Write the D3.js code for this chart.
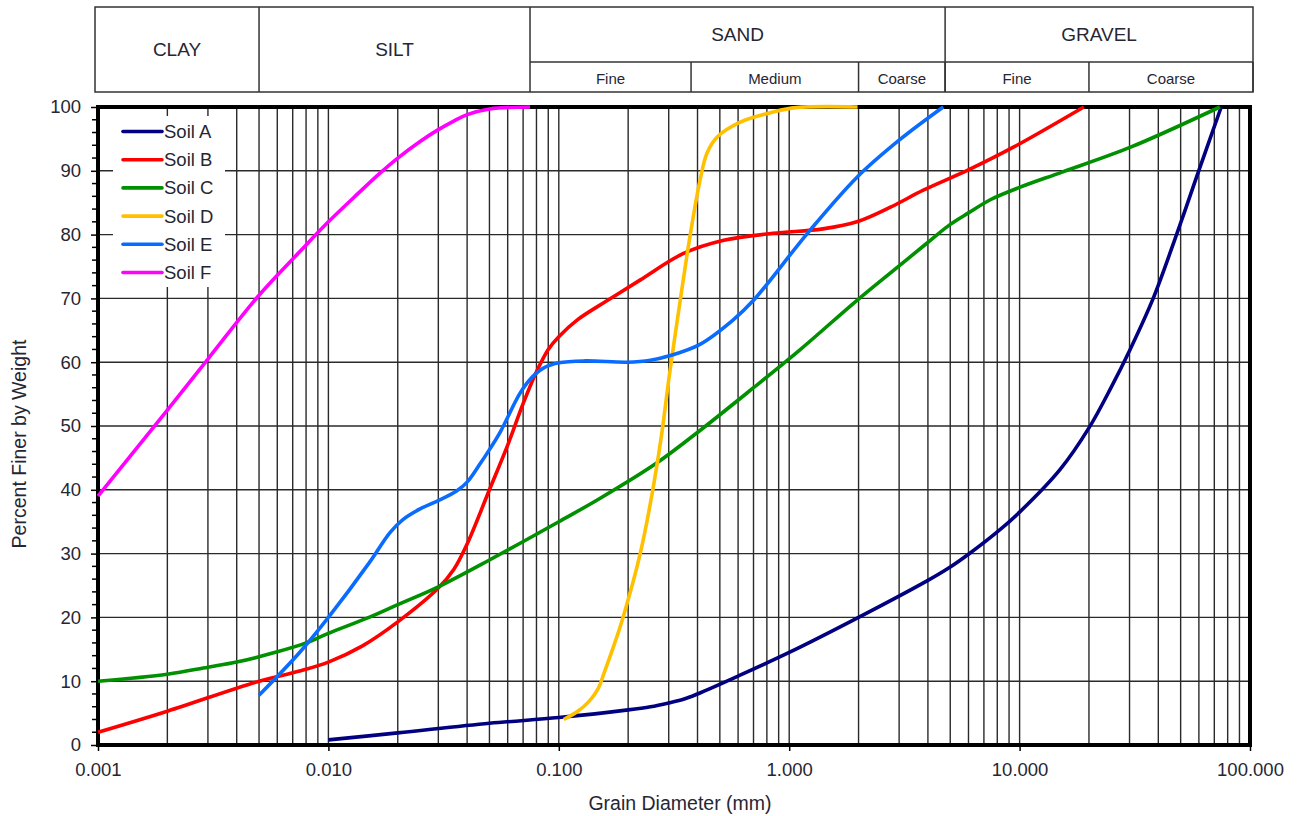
<!DOCTYPE html>
<html>
<head>
<meta charset="utf-8">
<script src="https://cdn.jsdelivr.net/npm/d3@7"></script>
<style>
  html, body { margin: 0; padding: 0; background: #fff; }
  svg { display: block; font-family: "Liberation Sans", Arial, sans-serif; }
</style>
</head>
<body>
<svg id="chart" width="1297" height="816"></svg>
<script>
// Grain size distribution curves (diameter in mm, percent finer by weight)
const soilA_d = [0.01, 0.02, 0.05, 0.1, 0.2, 0.25, 0.3, 0.35, 0.4, 0.6, 1, 2, 4, 5, 6, 8, 10, 15, 20, 25, 30, 38, 48, 58.6, 75];
const soilA_p = [0.8, 1.9, 3.4, 4.3, 5.5, 6.0, 6.6, 7.2, 8.0, 10.8, 14.5, 20, 25.8, 27.9, 29.9, 33.4, 36.5, 43.2, 49.7, 56.1, 61.8, 70, 80, 89, 100];

const soilB_d = [0.001, 0.002, 0.005, 0.0075, 0.01, 0.014, 0.02, 0.03, 0.035, 0.04, 0.05, 0.06, 0.07, 0.08, 0.09, 0.1, 0.12, 0.163, 0.226, 0.346, 0.52, 0.85, 1.4, 2, 2.75, 3.84, 5.96, 9.4, 19];
const soilB_p = [2, 5.3, 10, 11.6, 13, 15.5, 19.3, 24.6, 27.5, 31.5, 40, 47, 53.5, 58.5, 62, 64, 66.6, 69.7, 72.9, 77, 79.1, 80.2, 80.9, 82.1, 84.3, 87, 90.1, 93.7, 100];

const soilC_d = [0.001, 0.002, 0.003, 0.004, 0.006, 0.008, 0.01, 0.015, 0.02, 0.03, 0.05, 0.1, 0.15, 0.266, 0.41, 0.7, 1.11, 1.97, 3.22, 4.1, 5, 6, 7.5, 10, 15.3, 30.3, 74];
const soilC_p = [10, 11.1, 12.2, 13, 14.6, 16.0, 17.5, 20, 22, 24.8, 29, 35, 38.6, 44.2, 49.3, 56, 61.9, 69.7, 76, 79.1, 81.6, 83.4, 85.5, 87.4, 89.8, 93.7, 100];

const soilD_d = [0.105, 0.12, 0.135, 0.148, 0.158, 0.175, 0.19, 0.2256, 0.253, 0.279, 0.302, 0.336, 0.372, 0.41, 0.44, 0.487, 0.61, 0.85, 1.07, 1.98];
const soilD_p = [4, 5.2, 6.8, 8.8, 11.5, 16, 20, 30, 39, 48.5, 58, 69.5, 80, 88.5, 92.8, 95.3, 97.6, 99.2, 99.9, 100];

const soilE_d = [0.005, 0.0075, 0.01, 0.015, 0.0185, 0.021, 0.025, 0.03, 0.036, 0.04, 0.045, 0.05, 0.0556, 0.0675, 0.075, 0.085, 0.1, 0.13, 0.198, 0.25, 0.302, 0.41, 0.57, 0.70, 1.2, 1.97, 3.0, 4.66];
const soilE_p = [7.8, 14.5, 20, 28.5, 33.3, 35.3, 37, 38.3, 39.8, 41.2, 43.8, 46.3, 49, 55, 57.3, 59, 59.9, 60.2, 60, 60.3, 61, 62.8, 66.6, 69.7, 80.2, 89, 94.8, 100];

const soilF_d = [0.001, 0.002, 0.003, 0.005, 0.0075, 0.01, 0.0135, 0.0167, 0.02, 0.025, 0.0295, 0.035, 0.04, 0.05, 0.075];
const soilF_p = [39, 52.5, 60.5, 70.5, 77.3, 82, 86.5, 89.6, 92, 94.6, 96.3, 97.8, 98.8, 99.7, 100];

const seriesNames = ["Soil A", "Soil B", "Soil C", "Soil D", "Soil E", "Soil F"];
const seriesColors = ["#000080", "#ff0000", "#009000", "#ffc000", "#0a6cff", "#ff00ff"];
const seriesD = [soilA_d, soilB_d, soilC_d, soilD_d, soilE_d, soilF_d];
const seriesP = [soilA_p, soilB_p, soilC_p, soilD_p, soilE_p, soilF_p];

// Axis ticks
const xTickValues = [0.001, 0.01, 0.1, 1, 10, 100];
const xTickLabels = ["0.001", "0.010", "0.100", "1.000", "10.000", "100.000"];
const yTickValues = [0, 10, 20, 30, 40, 50, 60, 70, 80, 90, 100];

// Soil classification bands (diameter bounds in mm)
const classNames = ["CLAY", "SILT", "SAND", "GRAVEL"];
const classBounds = [0.001, 0.005, 0.075, 4.75, 100];
const subNames = ["Fine", "Medium", "Coarse", "Fine", "Coarse"];
const subBounds = [[0.075, 0.375], [0.375, 2], [2, 4.75], [4.75, 20], [20, 100]];

const svg = d3.select("#chart");
const plotLeft = 98, plotRight = 1250, plotTop = 107, plotBottom = 745;

const x = d3.scaleLog().domain([0.001, 100]).range([plotLeft, plotRight]);
const y = d3.scaleLinear().domain([0, 100]).range([plotBottom, plotTop]);

const gridColor = "#2a2a2a";
const textColor = "#262633";

// ----- header classification table -----
const hTop = 7, hMid = 62, hBot = 92;
const hx = d => {
  if (d <= 0.001) return plotLeft - 3;
  if (d >= 100) return plotRight + 3;
  return x(d);
};
const header = svg.append("g").attr("fill", "none").attr("stroke", "#333").attr("stroke-width", 1.5);
header.append("rect").attr("x", hx(0.001)).attr("y", hTop)
  .attr("width", hx(100) - hx(0.001)).attr("height", hBot - hTop);
classBounds.slice(1, -1).forEach(b => {
  header.append("line").attr("x1", hx(b)).attr("x2", hx(b)).attr("y1", hTop).attr("y2", hBot);
});
header.append("line").attr("x1", hx(0.075)).attr("x2", hx(100)).attr("y1", hMid).attr("y2", hMid);
subBounds.forEach(s => {
  header.append("line").attr("x1", hx(s[1])).attr("x2", hx(s[1])).attr("y1", hMid).attr("y2", hBot);
});

classNames.forEach((n, i) => {
  const x0 = hx(classBounds[i]), x1 = hx(classBounds[i + 1]);
  const split = i >= 2;
  svg.append("text")
    .attr("x", (x0 + x1) / 2)
    .attr("y", split ? (hTop + hMid) / 2 : (hTop + hBot) / 2)
    .attr("text-anchor", "middle").attr("dominant-baseline", "central")
    .attr("font-size", 19).attr("fill", textColor).text(n);
});
subNames.forEach((n, i) => {
  const x0 = hx(subBounds[i][0]), x1 = hx(subBounds[i][1]);
  svg.append("text")
    .attr("x", (x0 + x1) / 2).attr("y", (hMid + hBot) / 2 + 1)
    .attr("text-anchor", "middle").attr("dominant-baseline", "central")
    .attr("font-size", 15).attr("fill", textColor).text(n);
});

// ----- grid -----
const minorX = [];
for (let e = -3; e <= 1; e++) {
  for (let k = 1; k <= 9; k++) minorX.push(k * Math.pow(10, e));
}
minorX.push(100);
const grid = svg.append("g").attr("stroke", gridColor).attr("stroke-width", 1.4);
grid.selectAll("line.v").data(minorX).join("line").attr("class", "v")
  .attr("x1", d => x(d)).attr("x2", d => x(d))
  .attr("y1", plotTop).attr("y2", plotBottom);
grid.selectAll("line.h").data(yTickValues).join("line").attr("class", "h")
  .attr("x1", plotLeft).attr("x2", plotRight)
  .attr("y1", d => y(d)).attr("y2", d => y(d));

// ----- axes -----
const yAxis = d3.axisLeft(y).tickValues(yTickValues).tickSize(7).tickPadding(10).tickFormat(d3.format("d"));
const yg = svg.append("g").attr("transform", `translate(${plotLeft},0)`).call(yAxis);
yg.select(".domain").remove();
yg.selectAll(".tick line").attr("stroke", "#000").attr("stroke-width", 1.5);
yg.selectAll(".tick text").attr("font-size", 18.5).attr("fill", textColor)
  .attr("font-family", "'Liberation Sans', Arial, sans-serif");

// minor tick marks on the percent axis
const yMinor = d3.range(0, 101, 2).filter(v => v % 10 !== 0);
svg.append("g").attr("stroke", "#000").attr("stroke-width", 1.5)
  .selectAll("line").data(yMinor).join("line")
  .attr("x1", plotLeft - 6).attr("x2", plotLeft).attr("y1", d => y(d)).attr("y2", d => y(d));

const xAxis = d3.axisBottom(x).tickValues(xTickValues).tickSize(6).tickPadding(12)
  .tickFormat((d, i) => xTickLabels[i]);
const xg = svg.append("g").attr("transform", `translate(0,${plotBottom})`).call(xAxis);
xg.select(".domain").remove();
xg.selectAll(".tick line").attr("stroke", "#000").attr("stroke-width", 1.5);
xg.selectAll(".tick text").attr("font-size", 18.5).attr("fill", textColor)
  .attr("font-family", "'Liberation Sans', Arial, sans-serif");

// ----- plot frame -----
svg.append("rect")
  .attr("x", plotLeft).attr("y", plotTop)
  .attr("width", plotRight - plotLeft).attr("height", plotBottom - plotTop)
  .attr("fill", "none").attr("stroke", "#000").attr("stroke-width", 4);

// ----- soil curves (drawn over the frame) -----
const line = d3.line()
  .x(d => x(d[0])).y(d => y(d[1]))
  .curve(d3.curveCatmullRom.alpha(0.5));
seriesNames.forEach((n, i) => {
  const pts = seriesD[i].map((d, j) => [d, seriesP[i][j]]);
  svg.append("path").datum(pts)
    .attr("d", line)
    .attr("fill", "none")
    .attr("stroke", seriesColors[i])
    .attr("stroke-width", 3.6)
    .attr("stroke-linejoin", "round");
});

// ----- legend -----
const legend = svg.append("g");
legend.append("rect").attr("x", 113).attr("y", 116).attr("width", 112).attr("height", 171).attr("fill", "#fff");
seriesNames.forEach((n, i) => {
  const ly = 131.5 + i * 28.2;
  legend.append("line").attr("x1", 123).attr("x2", 162).attr("y1", ly).attr("y2", ly)
    .attr("stroke", seriesColors[i]).attr("stroke-width", 3.6).attr("stroke-linecap", "round");
  legend.append("text").attr("x", 164).attr("y", ly).attr("dominant-baseline", "central")
    .attr("font-size", 18.5).attr("fill", textColor).text(n);
});

// ----- axis titles -----
svg.append("text")
  .attr("x", 680).attr("y", 810)
  .attr("text-anchor", "middle").attr("font-size", 19.5).attr("fill", textColor)
  .text("Grain Diameter (mm)");
svg.append("text")
  .attr("transform", "translate(26,444) rotate(-90)")
  .attr("text-anchor", "middle").attr("font-size", 19.5).attr("fill", textColor)
  .text("Percent Finer by Weight");
</script>
</body>
</html>
